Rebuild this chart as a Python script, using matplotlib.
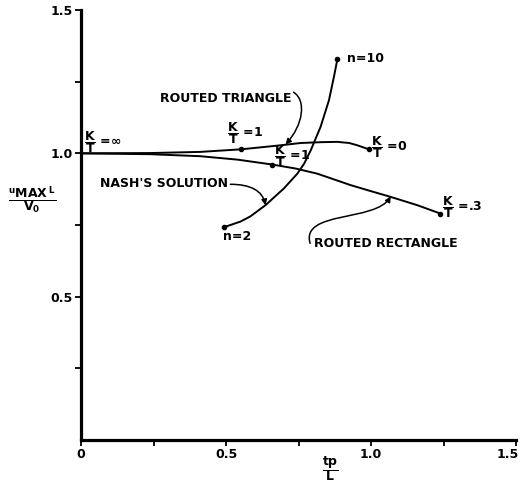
import matplotlib
matplotlib.use("Agg")
import matplotlib.pyplot as plt
from matplotlib.path import Path
from matplotlib.patches import FancyArrowPatch
import matplotlib.transforms as mtransforms

plt.rcParams['font.family'] = ['DejaVu Sans']
plt.rcParams['font.weight'] = 'bold'
plt.rcParams['mathtext.fontset'] = 'custom'
plt.rcParams['mathtext.rm'] = 'DejaVu Sans:bold'
plt.rcParams['mathtext.it'] = 'DejaVu Sans:bold'
plt.rcParams['mathtext.bf'] = 'DejaVu Sans:bold'

# ---- data ----
tri_x = [0.0, 0.238, 0.411, 0.552, 0.688, 0.757, 0.830, 0.884, 0.925, 0.953, 0.993]
tri_y = [1.0, 1.001, 1.005, 1.014, 1.028, 1.036, 1.039, 1.040, 1.036, 1.028, 1.014]
tri_dots_x = [0.552, 0.993]
tri_dots_y = [1.014, 1.014]

rect_x = [0.0, 0.238, 0.411, 0.540, 0.659, 0.740, 0.815, 0.930, 1.000, 1.068, 1.160, 1.239]
rect_y = [1.0, 0.997, 0.990, 0.978, 0.961, 0.947, 0.929, 0.889, 0.868, 0.848, 0.819, 0.790]
rect_dots_x = [0.659, 1.239]
rect_dots_y = [0.961, 0.790]

nash_x = [0.492, 0.550, 0.584, 0.636, 0.699, 0.746, 0.770, 0.792, 0.826, 0.855, 0.872, 0.884]
nash_y = [0.742, 0.762, 0.780, 0.819, 0.877, 0.929, 0.965, 1.010, 1.092, 1.185, 1.266, 1.328]
nash_dots_x = [0.492, 0.884]
nash_dots_y = [0.742, 1.328]

x_ticks = [0, 0.25, 0.5, 0.75, 1.0, 1.25, 1.5]
x_tick_labels = ['0', '', '0.5', '', '1.0', '', '1.5']
y_ticks = [0.25, 0.5, 0.75, 1.0, 1.25, 1.5]
y_tick_labels = ['', '0.5', '', '1.0', '', '1.5']

fig = plt.figure(figsize=(5.24, 4.83), dpi=100)
ax = fig.add_axes([81/524, 1-440/483, 435/524, 430/483])
ax.set_xlim(0, 1.5)
ax.set_ylim(0, 1.5)

for s in ['top', 'right']:
    ax.spines[s].set_visible(False)
for s in ['left', 'bottom']:
    ax.spines[s].set_linewidth(2.3)

ax.set_xticks(x_ticks)
ax.set_xticklabels(x_tick_labels, fontsize=9, fontweight='bold')
ax.set_yticks(y_ticks)
ax.set_yticklabels(y_tick_labels, fontsize=9, fontweight='bold')
ax.tick_params(direction='out', length=4, width=1.3, pad=2)
# keep the last x tick label inside the figure
last = ax.get_xticklabels()[-1]
last.set_transform(last.get_transform() +
                   mtransforms.ScaledTranslation(-8/100, 0, fig.dpi_scale_trans))

lw = 1.4
ax.plot(tri_x, tri_y, color='black', lw=lw)
ax.plot(rect_x, rect_y, color='black', lw=lw)
ax.plot(nash_x, nash_y, color='black', lw=lw)
ax.plot(tri_dots_x, tri_dots_y, 'o', color='black', ms=3)
ax.plot(rect_dots_x, rect_dots_y, 'o', color='black', ms=3)
ax.plot(nash_dots_x, nash_dots_y, 'o', color='black', ms=3)

fs = 9
def txt(x, y, s, **kw):
    ax.text(x, y, s, fontsize=fs, fontweight='bold', va='center', ha='left',
            clip_on=False, **kw)

txt(0.01, 1.04, r'$\dfrac{K}{T}$ =$\infty$')
txt(0.505, 1.07, r'$\dfrac{K}{T}$ =1')
txt(0.664, 0.99, r'$\dfrac{K}{T}$ =1')
txt(1.0, 1.021, r'$\dfrac{K}{T}$ =0')
txt(1.246, 0.812, r'$\dfrac{K}{T}$ =.3')
txt(0.916, 1.331, 'n=10')
txt(0.491, 0.711, 'n=2')
txt(0.273, 1.192, 'ROUTED TRIANGLE')
txt(0.066, 0.895, "NASH'S SOLUTION")
txt(0.802, 0.686, 'ROUTED RECTANGLE')

# axis labels as fractions
ax.text(-0.169, 0.836, r'$\dfrac{{}^{u}\mathrm{MAX}\,{}^{L}}{V_{0}}$', fontsize=fs,
        ha='center', va='center', clip_on=False)
ax.text(0.861, -0.098, r'$\dfrac{tp}{L}$', fontsize=fs,
        ha='center', va='center', clip_on=False)

def curved_arrow(pts):
    codes = [Path.MOVETO, Path.CURVE4, Path.CURVE4, Path.CURVE4]
    p = Path(pts, codes)
    a = FancyArrowPatch(path=p, arrowstyle='-|>', mutation_scale=8,
                        color='black', lw=1.1, transform=ax.transData)
    ax.add_patch(a)

curved_arrow([(0.733, 1.213), (0.778, 1.185), (0.766, 1.098), (0.705, 1.031)])
curved_arrow([(0.515, 0.892), (0.584, 0.892), (0.626, 0.870), (0.636, 0.819)])
curved_arrow([(0.790, 0.686), (0.757, 0.801), (1.016, 0.760), (1.068, 0.850)])

fig.savefig('out.png', dpi=100)
